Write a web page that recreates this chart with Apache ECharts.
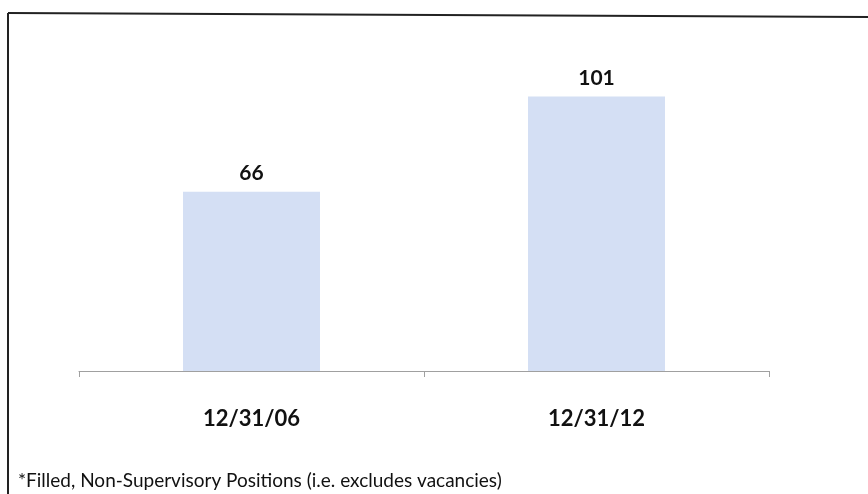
<!DOCTYPE html>
<html>
<head>
<meta charset="utf-8">
<script src="https://cdn.jsdelivr.net/npm/echarts@6/dist/echarts.min.js"></script>
<style>
html,body{margin:0;padding:0;background:#fff;}
#chart{width:868px;height:494px;}
</style>
</head>
<body>
<div id="chart"></div>
<script>
const categories = ['12/31/06', '12/31/12'];
const values = [66, 101];
const footnote = '*Filled, Non-Supervisory Positions (i.e. excludes vacancies)';

const chart = echarts.init(document.getElementById('chart'));
chart.setOption({
  backgroundColor: '#ffffff',
  animation: false,
  graphic: [
    { type: 'line', shape: { x1: 8, y1: 13, x2: 870, y2: 17 }, style: { stroke: '#222', lineWidth: 2 } },
    { type: 'line', shape: { x1: 8, y1: 13, x2: 8, y2: 500 }, style: { stroke: '#222', lineWidth: 2 } },
    { type: 'text', left: 18, top: 471, style: { text: footnote, font: '19px Lato', fill: '#111' } }
  ],
  grid: { left: 79, right: 99, top: 45, bottom: 123 },
  xAxis: {
    type: 'category',
    data: categories,
    axisLine: { lineStyle: { color: '#a0a0a0', width: 1 } },
    axisTick: { show: true, length: 6, lineStyle: { color: '#a0a0a0' } },
    axisLabel: { margin: 37, fontFamily: 'Lato', fontWeight: 'bold', fontSize: 22, color: '#111' }
  },
  yAxis: {
    type: 'value', min: 0, max: 120, show: false,
    splitLine: { show: false }
  },
  series: [{
    type: 'bar',
    data: values,
    barWidth: 137,
    itemStyle: { color: '#D4DFF4' },
    label: { show: true, position: 'top', distance: 8, fontFamily: 'Lato', fontWeight: 'bold', fontSize: 21, color: '#111' }
  }]
});
</script>
</body>
</html>
